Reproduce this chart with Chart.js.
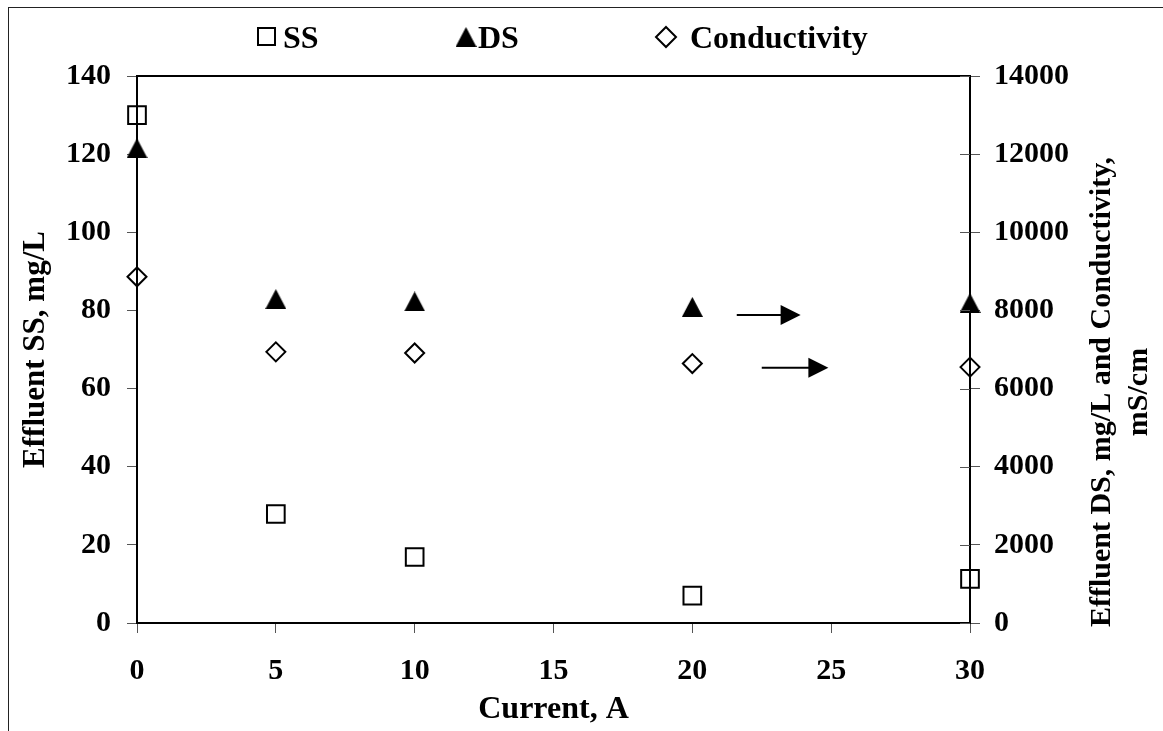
<!DOCTYPE html>
<html>
<head>
<meta charset="utf-8">
<script src="https://cdn.jsdelivr.net/npm/chart.js@4.4.1/dist/chart.umd.min.js"></script>
<style>
  html, body { margin: 0; padding: 0; background: #fff; }
  canvas { display: block; }
</style>
</head>
<body>
<canvas id="chart" width="1163" height="731"></canvas>
<script>
// Effluent quality vs applied current
const current = [0, 5, 10, 20, 30];
const ssValues = [130, 27.9, 16.9, 7.0, 11.3];          // mg/L, left axis
const dsValues = [12150, 8290, 8230, 8090, 8190];       // mg/L, right axis
const condValues = [8860, 6940, 6910, 6640, 6550];      // mS/cm, right axis

const xTicks = [0, 5, 10, 15, 20, 25, 30];
const leftTicks = [0, 20, 40, 60, 80, 100, 120, 140];
const rightTicks = [0, 2000, 4000, 6000, 8000, 10000, 12000, 14000];

const seriesNames = ['SS', 'DS', 'Conductivity'];
const xTitle = 'Current, A';
const leftTitle = 'Effluent SS, mg/L';
const rightTitle = ['Effluent DS, mg/L and Conductivity,', 'mS/cm'];

// arrows pointing to the right-hand axis (data units, right axis)
const arrowFromX = [21.6, 22.5];
const arrowToX = [23.9, 24.9];
const arrowY = [7880, 6530];

const FONT = "'Liberation Serif', 'Times New Roman', serif";
Chart.defaults.font.family = FONT;
Chart.defaults.font.weight = 'bold';
Chart.defaults.font.size = 30;
Chart.defaults.color = '#000';

// filled triangle marker, centred on its bounding box
function triangleMarker(w, h) {
  const c = document.createElement('canvas');
  c.width = w; c.height = h;
  const g = c.getContext('2d');
  g.fillStyle = '#000';
  g.beginPath();
  g.moveTo(w / 2, 0);
  g.lineTo(w, h);
  g.lineTo(0, h);
  g.closePath();
  g.fill();
  return c;
}
const triImg = triangleMarker(21, 20);

const toPoints = (ys) => current.map((x, i) => ({ x: x, y: ys[i] }));

const fixedTicks = (list) => (scale) => { scale.ticks = list.map(v => ({ value: v })); };

const frame = {
  id: 'frame',
  beforeDraw(chart) {
    const ctx = chart.ctx;
    ctx.save();
    ctx.strokeStyle = '#222';
    ctx.lineWidth = 1;
    ctx.strokeRect(8.5, 7.5, 1400, 1000);
    ctx.restore();
  },
  afterDraw(chart) {
    const ctx = chart.ctx;
    const a = chart.chartArea;
    const y2 = chart.scales.y2;
    ctx.save();
    // top edge of plot area
    ctx.strokeStyle = '#000';
    ctx.lineWidth = 2;
    ctx.beginPath();
    ctx.moveTo(a.left - 1, a.top);
    ctx.lineTo(a.right + 1, a.top);
    ctx.stroke();
    // inner half of the right-axis ticks
    ctx.strokeStyle = '#555';
    ctx.lineWidth = 1;
    y2.ticks.forEach(t => {
      const py = Math.round(y2.getPixelForValue(t.value)) + 0.5;
      ctx.beginPath();
      ctx.moveTo(y2.left - 10, py);
      ctx.lineTo(y2.left, py);
      ctx.stroke();
    });
    // arrows
    const xs = chart.scales.x;
    ctx.fillStyle = '#000';
    ctx.strokeStyle = '#000';
    arrowY.forEach((v, i) => {
      const py = y2.getPixelForValue(v);
      const x0 = xs.getPixelForValue(arrowFromX[i]);
      const x1 = xs.getPixelForValue(arrowToX[i]);
      ctx.lineWidth = 2;
      ctx.beginPath();
      ctx.moveTo(x0, py);
      ctx.lineTo(x1 - 18, py);
      ctx.stroke();
      ctx.beginPath();
      ctx.moveTo(x1, py);
      ctx.lineTo(x1 - 20, py - 10);
      ctx.lineTo(x1 - 20, py + 10);
      ctx.closePath();
      ctx.fill();
    });
    // right axis title, reading bottom to top
    ctx.font = 'bold 30px ' + FONT;
    ctx.textAlign = 'center';
    ctx.textBaseline = 'alphabetic';
    const cy = 392;
    [1110, 1147].forEach((bx, i) => {
      ctx.save();
      ctx.translate(bx, cy);
      ctx.rotate(-Math.PI / 2);
      ctx.fillText(rightTitle[i], 0, 0);
      ctx.restore();
    });
    // legend
    ctx.font = 'bold 32px ' + FONT;
    ctx.textAlign = 'left';
    const legY = 37;
    const base = 48;
    ctx.lineWidth = 2;
    ctx.strokeRect(258, legY - 9, 17, 17);
    ctx.fillText(seriesNames[0], 283, base);
    ctx.drawImage(triImg, 466 - 10.5, legY - 10);
    ctx.fillText(seriesNames[1], 478, base);
    ctx.beginPath();
    ctx.moveTo(666, legY - 10);
    ctx.lineTo(676, legY);
    ctx.lineTo(666, legY + 10);
    ctx.lineTo(656, legY);
    ctx.closePath();
    ctx.stroke();
    ctx.fillText(seriesNames[2], 690, base);
    ctx.restore();
  }
};

const tickGrid = { drawOnChartArea: false, drawTicks: true, tickLength: 10, tickColor: '#555', tickWidth: 1 };
const axisBorder = { display: true, color: '#000', width: 2 };

new Chart(document.getElementById('chart'), {
  type: 'scatter',
  data: {
    datasets: [
      {
        label: seriesNames[0],
        data: toPoints(ssValues),
        yAxisID: 'y',
        pointStyle: 'rect',
        pointRadius: 12.5,
        borderColor: '#000',
        borderWidth: 2,
        backgroundColor: 'rgba(0,0,0,0)',
        clip: false
      },
      {
        label: seriesNames[1],
        data: toPoints(dsValues),
        yAxisID: 'y2',
        pointStyle: triImg,
        clip: false
      },
      {
        label: seriesNames[2],
        data: toPoints(condValues),
        yAxisID: 'y2',
        pointStyle: 'rectRot',
        pointRadius: 9.5,
        borderColor: '#000',
        borderWidth: 2,
        backgroundColor: 'rgba(0,0,0,0)',
        clip: false
      }
    ]
  },
  options: {
    responsive: false,
    animation: false,
    layout: { padding: { top: 76, left: 0, right: 0, bottom: 0 } },
    plugins: { legend: { display: false }, tooltip: { enabled: false } },
    scales: {
      x: {
        type: 'linear', position: 'bottom', min: 0, max: 30,
        afterBuildTicks: fixedTicks(xTicks),
        afterFit(s) { s.height = 108; },
        grid: tickGrid, border: axisBorder,
        ticks: { padding: 20 },
        title: { display: true, text: xTitle, font: { size: 32 }, padding: { top: 0, bottom: 2 } }
      },
      y: {
        type: 'linear', position: 'left', min: 0, max: 140,
        afterBuildTicks: fixedTicks(leftTicks),
        afterFit(s) { s.width = 137; },
        grid: tickGrid, border: axisBorder,
        ticks: { padding: 16 },
        title: { display: true, text: leftTitle, font: { size: 31 }, padding: { top: 17, bottom: 0 } }
      },
      y2: {
        type: 'linear', position: 'right', min: 0, max: 14000,
        afterBuildTicks: fixedTicks(rightTicks),
        afterFit(s) { s.width = 193; },
        grid: tickGrid, border: axisBorder,
        ticks: { padding: 14, callback: (v) => String(v) }
      }
    }
  },
  plugins: [frame]
});
</script>
</body>
</html>
